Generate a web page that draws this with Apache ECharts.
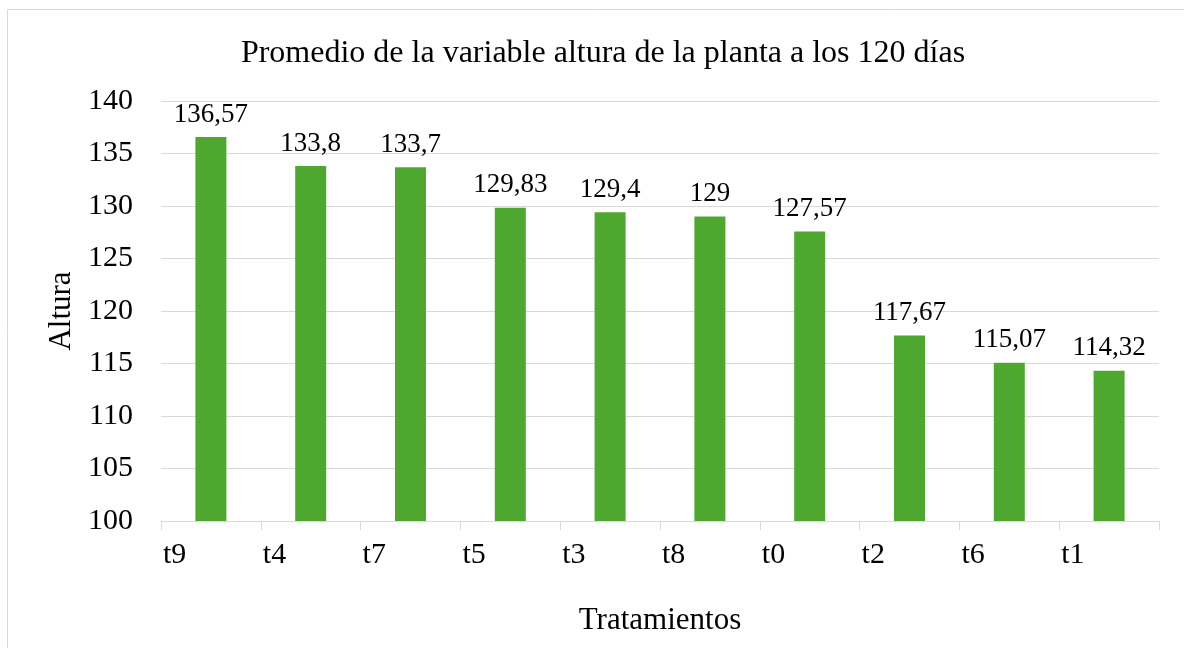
<!DOCTYPE html>
<html>
<head>
<meta charset="utf-8">
<script src="https://cdn.jsdelivr.net/npm/echarts@6/dist/echarts.min.js"></script>
<style>
  html, body { margin: 0; padding: 0; background: #fff; }
  #chart { width: 1184px; height: 648px; }
</style>
</head>
<body>
<div id="chart"></div>
<script>
const categories = ['t9', 't4', 't7', 't5', 't3', 't8', 't0', 't2', 't6', 't1']
const alturaValues = [136.57, 133.8, 133.7, 129.83, 129.4, 129, 127.57, 117.67, 115.07, 114.32]

const serif = '"Liberation Serif", "DejaVu Serif", serif'
const chart = echarts.init(document.getElementById('chart'))

// decimal comma as in the original
const fmt = (v) => String(v).replace('.', ',')

const option = {
  animation: false,
  textStyle: { fontFamily: serif, color: '#000' },
  title: {
    text: 'Promedio de la variable altura de la planta a los 120 días',
    left: 598,
    top: 33,
    textAlign: 'center',
    textStyle: { fontFamily: serif, fontSize: 32, fontWeight: 'normal', color: '#000' },
  },
  graphic: [
    {
      type: 'rect',
      shape: { x: 7.5, y: 9.5, width: 1200, height: 700 },
      style: { fill: 'none', stroke: '#d9d9d9', lineWidth: 1 },
      silent: true,
    },
  ],
  grid: { left: 161, right: 25, top: 101, bottom: 127 },
  xAxis: [
    {
      type: 'category',
      data: categories,
      axisLine: { lineStyle: { color: '#d9d9d9', width: 1 } },
      axisTick: { show: true, length: 9, lineStyle: { color: '#d9d9d9' } },
      axisLabel: { show: false },
      name: 'Tratamientos',
      nameLocation: 'middle',
      nameGap: 84,
      nameTextStyle: { fontFamily: serif, fontSize: 31, color: '#000' },
    },
    {
      // labels sit at the left edge of each band, as in the source
      type: 'category',
      position: 'bottom',
      boundaryGap: false,
      data: categories.concat(['']),
      axisLine: { show: false },
      axisTick: { show: false },
      axisLabel: {
        align: 'left',
        margin: 19,
        fontFamily: serif,
        fontSize: 30,
        color: '#000',
        padding: [0, 0, 0, 2],
      },
    },
  ],
  yAxis: {
    type: 'value',
    min: 100,
    max: 140,
    interval: 5,
    axisLine: { show: false },
    axisTick: { show: false },
    splitLine: { lineStyle: { color: '#d9d9d9', width: 1 } },
    axisLabel: { fontFamily: serif, fontSize: 30, color: '#000', margin: 28 },
    name: 'Altura',
    nameLocation: 'middle',
    nameGap: 84,
    nameTextStyle: { fontFamily: serif, fontSize: 31, color: '#000' },
  },
  series: [
    {
      name: 'Altura',
      type: 'bar',
      xAxisIndex: 0,
      data: alturaValues,
      barWidth: 31,
      itemStyle: { color: '#4ea72e' },
      label: {
        show: true,
        position: 'top',
        distance: 9,
        fontFamily: serif,
        fontSize: 27,
        color: '#000',
        formatter: (p) => fmt(p.value),
      },
    },
  ],
}

chart.setOption(option)
</script>
</body>
</html>
